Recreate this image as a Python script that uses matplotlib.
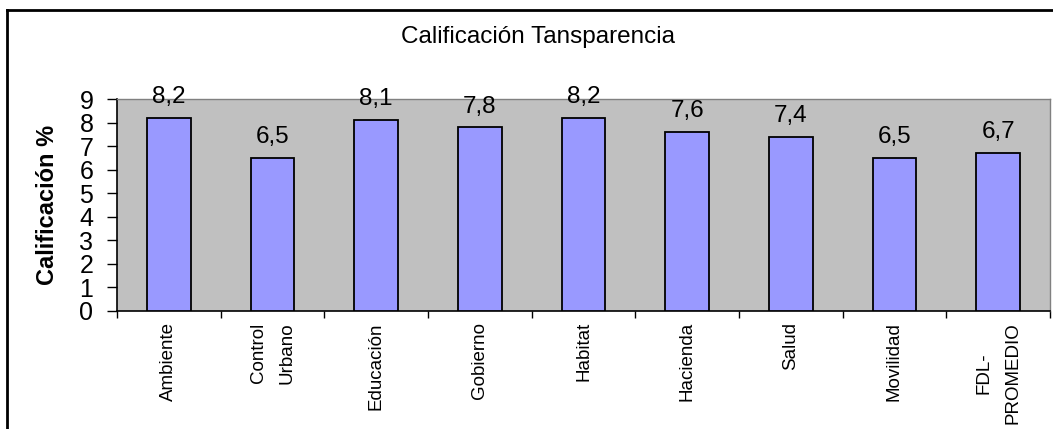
import numpy as np
import matplotlib
matplotlib.use('Agg')
import matplotlib.pyplot as plt
from matplotlib.lines import Line2D

plt.rcParams['font.family'] = ['Liberation Sans', 'DejaVu Sans']

categories = ['Ambiente', 'Control\nUrbano', 'Educación', 'Gobierno', 'Habitat',
              'Hacienda', 'Salud', 'Movilidad', 'FDL-\nPROMEDIO']
values = [8.2, 6.5, 8.1, 7.8, 8.2, 7.6, 7.4, 6.5, 6.7]
value_labels = ['8,2', '6,5', '8,1', '7,8', '8,2', '7,6', '7,4', '6,5', '6,7']
y_ticks = [0, 1, 2, 3, 4, 5, 6, 7, 8, 9]

W, H = 1053, 429
fig = plt.figure(figsize=(W / 100, H / 100), dpi=100)
fig.patch.set_facecolor('white')

# outer chart frame (right and bottom edges fall outside the image)
fig.add_artist(Line2D([7 / W, 7 / W], [0, 1 - 10 / H], color='black', lw=2))
fig.add_artist(Line2D([7 / W, 1], [1 - 10 / H, 1 - 10 / H], color='black', lw=2))

ax = fig.add_axes([117 / W, (H - 311) / H, (1050 - 117) / W, (311 - 99) / H])
ax.set_facecolor('#C0C0C0')

x = np.arange(len(categories))
bars = ax.bar(x, values, width=0.42, color='#9999FF', edgecolor='black', linewidth=1.3, zorder=3)

for b, lab in zip(bars, value_labels):
    ax.annotate(lab, (b.get_x() + b.get_width() / 2, b.get_height()),
                xytext=(0, 7), textcoords='offset points',
                ha='center', va='bottom', fontsize=17.5, annotation_clip=False)

ax.set_xlim(-0.5, len(categories) - 0.5)
ax.set_ylim(0, 9)
ax.set_yticks(y_ticks)
ax.tick_params(axis='y', labelsize=18, length=7, width=1, pad=10)

ax.set_xticks(x)
ax.set_xticklabels(categories, rotation=90, fontsize=13.5, va='top', ha='center',
                   linespacing=1.9)
ax.tick_params(axis='x', which='major', length=0, pad=8)
ax.set_xticks(np.arange(len(categories) + 1) - 0.5, minor=True)
ax.tick_params(axis='x', which='minor', length=5, width=1)

ax.set_ylabel('Calificación %', fontsize=17, fontweight='bold', labelpad=15)

for s in ['top', 'right']:
    ax.spines[s].set_color('#808080')
    ax.spines[s].set_linewidth(1)
for s in ['left', 'bottom']:
    ax.spines[s].set_color('black')
    ax.spines[s].set_linewidth(1.2)

fig.text(538 / W, 1 - 37 / H, 'Calificación Tansparencia', ha='center', va='center', fontsize=17.5)

fig.savefig('out.png', dpi=100)
